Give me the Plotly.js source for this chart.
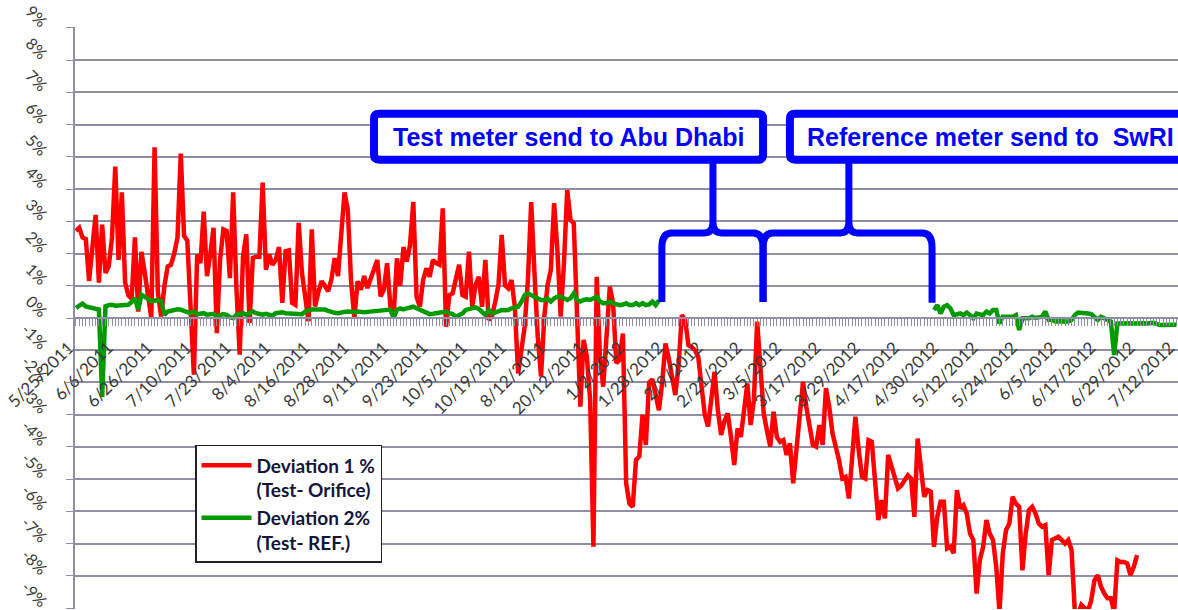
<!DOCTYPE html>
<html>
<head>
<meta charset="utf-8">
<script src="https://cdn.plot.ly/plotly-3.0.1.min.js"></script>
<style>html,body{margin:0;padding:0;background:#fff;}#chart{width:1178px;height:610px;}</style>
</head>
<body>
<div id="chart"></div>
<script>
// ---- Data (one value per day-category) ----
const dateLabels = ['5/25/2011','6/6/2011','6/26/2011','7/10/2011','7/23/2011','8/4/2011','8/16/2011','8/28/2011','9/11/2011','9/23/2011','10/5/2011','10/19/2011','8/12/2011','20/12/2011','1/2/2012','1/28/2012','2/9/2012','2/21/2012','3/5/2012','3/17/2012','3/29/2012','4/17/2012','4/30/2012','5/12/2012','5/24/2012','6/5/2012','6/17/2012','6/29/2012','7/12/2012'];
const categoriesPerLabel = 12;

const yTickValues = [-9,-8,-7,-6,-5,-4,-3,-2,-1,0,1,2,3,4,5,6,7,8,9];
const yTickLabels = ['-9%','-8%','-7%','-6%','-5%','-4%','-3%','-2%','-1%','0%','1%','2%','3%','4%','5%','6%','7%','8%','9%'];

// Deviation 1 % (Test - Orifice)
const deviation1 = [
 2.7, 2.8, 2.5, 2.45, 1.15, 2.1, 3.2, 1.1, 2.9, 1.4,
 1.6, 2.5, 4.7, 1.8, 3.9, 1.1, 0.7, 0.6, 2.5, 0.2,
 2.05, 1.4, 0.7, 0.0, 5.3, 0.8, 0.05, 1.0, 1.6, 1.65,
 2.0, 2.5, 5.1, 2.55, 2.4, 0.6, -1.76, 1.97, 1.7, 3.3,
 1.3, 1.97, 2.8, -0.47, 1.8, 2.75, 2.7, 1.24, 3.9, 0.9,
 -1.14, 1.9, 2.6, -0.15, 1.86, 1.9, 1.9, 4.2, 1.5, 1.97,
 1.65, 1.8, 2.2, 0.47, 2.07, 2.1, 0.47, 0.41, 2.95, 1.4,
 0.5, -0.1, 2.75, 0.36, 0.8, 1.14, 1.0, 0.83, 1.2, 1.86,
 1.3, 2.5, 3.9, 3.36, 1.14, 0.0, 1.14, 0.88, 1.3, 0.93,
 1.24, 1.5, 1.8, 0.67, 0.88, 1.7, 0.36, 0.1, 1.85, 1.0,
 2.2, 1.75, 2.27, 3.6, 0.66, 0.35, 1.18, 1.54, 1.28, 1.8,
 1.7, 1.65, 3.4, -0.27, 0.71, 0.77, 1.18, 1.65, 0.71, 0.66,
 2.06, 0.35, 1.02, 1.28, 0.35, 1.8, -0.06, 0.04, 0.5, 1.02,
 2.58, 1.02, 0.92, 1.18, 0.35, -1.72, -1.0, -0.27, 1.18, 3.6,
 1.39, -0.58, -1.82, 0.04, 1.02, 1.5, 3.56, 2.1, 0.04, 1.7,
 3.97, 3.04, 2.94, 0.46, -2.75, -0.68, -1.2, -2.55, -7.1, 1.28,
 -1.2, -2.13, -0.27, 0.97, 0.46, -1.4, -1.3, -0.48, -5.13, -5.76,
 -5.86, -4.4, -4.3, -3.0, -3.94, -2.0, -1.9, -2.34, -2.86, -2.0,
 -0.79, -1.25, -1.87, -2.39, -1.46, 0.09, -0.06, -0.84, -0.9, -1.0,
 -1.2, -2.24, -3.0, -3.37, -2.55, -1.67, -2.86, -3.63, -3.2, -2.96,
 -3.69, -4.56, -3.43, -3.69, -2.86, -2.03, -3.32, -2.55, -0.11, -1.72,
 -2.96, -3.5, -3.99, -2.91, -3.69, -3.84, -3.79, -4.25, -3.89, -5.13,
 -3.99, -3.0, -1.98, -2.75, -3.37, -3.94, -3.99, -3.32, -3.94, -2.18,
 -2.75, -3.58, -4.0, -4.41, -4.98, -4.93, -5.6, -4.1, -3.06, -4.1,
 -4.93, -4.98, -3.79, -3.84, -5.03, -6.27, -5.65, -6.22, -4.25, -4.56,
 -4.98, -5.29, -5.2, -5.03, -4.88, -4.98, -6.17, -3.74, -4.82, -5.55,
 -5.34, -5.39, -7.1, -6.17, -5.7, -5.7, -7.15, -7.1, -7.3, -5.34,
 -5.91, -5.81, -6.07, -6.69, -6.89, -8.55, -7.5, -7.1, -6.27, -6.69,
 -6.89, -7.72, -9.12, -7.3, -6.58, -6.38, -5.55, -5.76, -5.86, -7.83,
 -6.69, -5.96, -5.86, -6.07, -6.38, -6.48, -6.43, -7.98, -6.89, -6.84,
 -6.79, -6.89, -7.0, -6.89, -7.2, -9.12, -9.2, -8.9, -9.0, -9.1,
 -8.76, -8.14, -7.98, -8.34, -8.55, -8.7, -8.7, -9.12, -7.52, -7.57,
 -7.57, -7.62, -7.98, -7.72, -7.36
];

// Deviation 2% (Test - REF.): before the test meter left, a gap, then after the reference meter returned
const deviation2Before = [
 0.31, 0.4, 0.45, 0.36, 0.33, 0.31, 0.28, 0.26, -2.45, 0.36,
 0.4, 0.41, 0.38, 0.38, 0.38, 0.4, 0.41, 0.5, 0.62, 0.26,
 0.72, 0.66, 0.58, 0.52, 0.54, 0.55, 0.52, 0.1, 0.2, 0.22,
 0.26, 0.27, 0.26, 0.2, 0.18, 0.15, 0.2, 0.12, 0.14, 0.15,
 0.1, 0.12, 0.13, 0.05, 0.1, 0.12, 0.1, 0.02, 0.0, 0.1,
 0.13, 0.15, 0.1, 0.15, 0.2, 0.15, 0.12, 0.1, 0.13, 0.1,
 0.07, 0.15, 0.16, 0.18, 0.15, 0.14, 0.13, 0.15, 0.13, 0.12,
 0.2, 0.24, 0.26, 0.26, 0.27, 0.26, 0.26, 0.22, 0.18, 0.16,
 0.15, 0.18, 0.19, 0.2, 0.18, 0.19, 0.2, 0.18, 0.18, 0.19,
 0.2, 0.22, 0.23, 0.26, 0.25, 0.26, 0.26, 0.0, 0.26, 0.3,
 0.27, 0.3, 0.33, 0.35, 0.3, 0.25, 0.2, 0.14, 0.12, 0.13,
 0.14, 0.16, 0.17, 0.2, 0.15, 0.12, 0.04, 0.1, 0.14, 0.25,
 0.27, 0.3, 0.33, 0.28, 0.2, 0.09, 0.25, 0.14, 0.17, 0.2,
 0.25, 0.24, 0.25, 0.3, 0.33, 0.35, 0.5, 0.71, 0.76, 0.71,
 0.66, 0.61, 0.56, 0.56, 0.61, 0.51, 0.61, 0.66, 0.66, 0.61,
 0.56, 0.61, 0.76, 0.56, 0.51, 0.56, 0.58, 0.56, 0.61, 0.66,
 0.51, 0.46, 0.46, 0.51, 0.46, 0.43, 0.4, 0.42, 0.46, 0.4,
 0.4, 0.46, 0.4, 0.46, 0.4, 0.42, 0.51, 0.4, 0.55
];
const deviation2MissingDays = 83;
const deviation2After = [
 0.25, 0.4, 0.14, 0.35, 0.4, 0.3, 0.09, 0.12, 0.14, 0.09,
 0.17, 0.09, -0.01, 0.14, 0.1, 0.09, 0.2, 0.14, 0.25, 0.25,
 -0.17, 0.04, 0.04, 0.05, 0.04, 0.09, -0.37, -0.01, 0.0, -0.01,
 0.04, 0.0, 0.02, 0.04, 0.2, -0.06, -0.05, -0.11, -0.1, -0.11,
 -0.11, -0.11, -0.06, 0.09, 0.17, 0.17, 0.17, 0.14, 0.12, 0.04,
 -0.06, 0.04, 0.0, -0.06, -0.11, -1.15, -0.17, -0.17, -0.16, -0.15,
 -0.16, -0.17, -0.16, -0.15, -0.16, -0.17, -0.16, -0.15, -0.18, -0.22,
 -0.22, -0.22, -0.22, -0.22, -0.21
];
const deviation2 = deviation2Before.concat(new Array(deviation2MissingDays).fill(null), deviation2After);

// ---- Styles ----
const gridGrey = '#8e8ea6';
const labelGrey = '#3a3a3a';
const calloutBlue = '#0000ff';

const traces = [
  {type:'scatter', mode:'lines', y: deviation1, name:'Deviation 1 %<br>(Test- Orifice)',
   line:{color:'#ff0000', width:4.5}, hoverinfo:'y'},
  {type:'scatter', mode:'lines', y: deviation2, name:'Deviation 2%<br>(Test- REF.)',
   line:{color:'#009a00', width:4.5}, connectgaps:false, hoverinfo:'y'}
];

function roundRect(x0, x1, y0, y1, rx, ry) {
  return `M${x0+rx},${y1} L${x1-rx},${y1} Q${x1},${y1} ${x1},${y1-ry} L${x1},${y0+ry} Q${x1},${y0} ${x1-rx},${y0} ` +
         `L${x0+rx},${y0} Q${x0},${y0} ${x0},${y0+ry} L${x0},${y1-ry} Q${x0},${y1} ${x0+rx},${y1} Z`;
}
// brace from xa to xb (category index), stem at xs, legs down to yLeg (in %)
function brace(xa, xb, xs, yLegA, yLegB, yBar, yTop) {
  const cx = 3.0, cy = 0.45, sx = 2.6, sy = 0.32;
  return `M${xa},${yLegA} L${xa},${yBar-cy} Q${xa},${yBar} ${xa+cx},${yBar} L${xs-sx},${yBar} Q${xs},${yBar} ${xs},${yBar+sy} L${xs},${yTop} ` +
         `M${xs},${yBar+sy} Q${xs},${yBar} ${xs+sx},${yBar} L${xb-cx},${yBar} Q${xb},${yBar} ${xb},${yBar-cy} L${xb},${yLegB}`;
}

const boxY0 = 4.91, boxY1 = 6.34;
const shapes = [
  {type:'path', xref:'x', yref:'y', path: roundRect(91.0, 209.8, boxY0, boxY1, 1.6, 0.16),
   line:{color:calloutBlue, width:8}, fillcolor:'#ffffff', layer:'above'},
  {type:'path', xref:'x', yref:'y', path: roundRect(218.0, 352, boxY0, boxY1, 1.6, 0.16),
   line:{color:calloutBlue, width:8}, fillcolor:'#ffffff', layer:'above'},
  {type:'path', xref:'x', yref:'y', path: brace(178.9, 209.8, 194.5, 0.5, 0.5, 2.64, boxY0),
   line:{color:calloutBlue, width:7}, layer:'above'},
  {type:'path', xref:'x', yref:'y', path: brace(209.8, 261.4, 236.0, 0.5, 0.47, 2.64, boxY0),
   line:{color:calloutBlue, width:7}, layer:'above'}
];

const calloutFont = {family:'Liberation Sans, Arial, sans-serif', size:25, color:calloutBlue, weight:'bold'};
const annotations = [
  {xref:'x', yref:'y', x:150.5, y:(boxY0+boxY1)/2, text:'Test meter send to Abu Dhabi', showarrow:false,
   xanchor:'center', yanchor:'middle', font:calloutFont},
  {xref:'x', yref:'y', x:222.5, y:(boxY0+boxY1)/2, text:'Reference meter send to\u00a0\u00a0SwRI', showarrow:false,
   xanchor:'left', yanchor:'middle', font:calloutFont}
];

const layout = {
  width:1178, height:610,
  margin:{l:75, r:0, t:27, b:1, pad:0},
  paper_bgcolor:'#ffffff', plot_bgcolor:'#ffffff',
  font:{family:'Lato, "Open Sans", sans-serif', color:labelGrey},
  showlegend:true,
  legend:{x:0.1088, y:0.2818, xanchor:'left', yanchor:'top', bgcolor:'#ffffff',
          bordercolor:'#222222', borderwidth:1.5, valign:'top', itemwidth:50, tracegroupgap:6,
          font:{family:'Lato, sans-serif', size:19, color:'#15153a', weight:'bold'}},
  xaxis:{
    range:[-0.3, 336.5], anchor:'free', position:0.5,
    tickmode:'array', tickvals: dateLabels.map((_, k) => k * categoriesPerLabel), ticktext: dateLabels,
    tickangle:-45, tickfont:{size:17, color:labelGrey}, ticklabeloverflow:'allow', ticklabelshift:-7,
    ticks:'outside', ticklen:7, tickcolor:gridGrey, tickwidth:1, ticklabelstandoff:5,
    showline:true, linecolor:gridGrey, linewidth:2, showgrid:false, zeroline:false,
    minor:{tickmode:'linear', tick0:0, dtick:1, ticks:'outside', ticklen:7, tickcolor:gridGrey, tickwidth:1, showgrid:false},
    fixedrange:true
  },
  yaxis:{
    range:[-9.03, 9.03], tickmode:'array', tickvals:yTickValues, ticktext:yTickLabels,
    tickangle:45, tickfont:{size:16, color:labelGrey}, ticklabeloverflow:'allow', ticklabelshift:-3,
    ticks:'outside', ticklen:7, tickcolor:gridGrey, tickwidth:1, ticklabelstandoff:17,
    showgrid:true, gridcolor:gridGrey, gridwidth:2,
    showline:true, linecolor:gridGrey, linewidth:2, zeroline:false, fixedrange:true
  },
  shapes: shapes,
  annotations: annotations
};

Plotly.newPlot('chart', traces, layout, {displayModeBar:false, staticPlot:true});
</script>
</body>
</html>
